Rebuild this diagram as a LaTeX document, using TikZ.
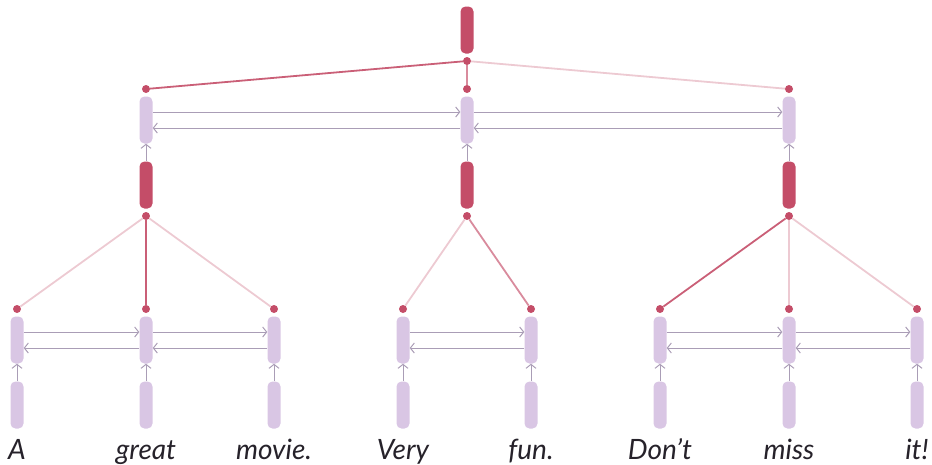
\documentclass[tikz,border=0pt]{standalone}
\usepackage{fontspec}
\setmainfont{Lato}
\usetikzlibrary{arrows.meta}

\definecolor{lilac}{HTML}{D9C6E4}
\definecolor{rosewood}{HTML}{C44D68}
\definecolor{slate}{HTML}{AA9DB6}
\definecolor{ink}{HTML}{26222A}

\begin{document}
\begin{tikzpicture}
[
x=1pt, y=-1pt,
Bar/.style={rectangle, rounded corners=5pt, minimum width=13pt, minimum height=47pt, inner sep=0pt},
Hidden/.style={Bar, fill=lilac},
Pooled/.style={Bar, fill=rosewood},
Dot/.style={circle, fill=rosewood, minimum size=8pt, inner sep=0pt},
Flow/.style={-{Straight Barb[length=4pt,width=10pt]}, draw=slate, line width=1pt},
Strong/.style={draw=rosewood!90, line width=1.8pt},
Medium/.style={draw=rosewood!65, line width=1.8pt},
Weak/.style={draw=rosewood!30, line width=1.8pt},
Word/.style={font=\fontsize{28}{33}\selectfont\itshape, text=ink, anchor=base, inner sep=0pt},
]

\useasboundingbox (0,0) rectangle (932,464);

% word level: embeddings, encoder states, attention points
\foreach \x/\w [count=\i] in {17/A, 146/great, 274/movie., 403/Very, 531/fun., 660/Don't, 789/miss, 917/it!}{
  \node[Hidden] (emb\i) at (\x,405) {};
  \node[Hidden] (enc\i) at (\x,340) {};
  \node[Dot] (wdot\i) at (\x,309) {};
  \node[Word] (word\i) at (\x,459) {\w};
  \draw[Flow] (emb\i) -- (enc\i);
}

% bidirectional links inside each sentence
\foreach \a/\b in {1/2, 2/3, 4/5, 6/7, 7/8}{
  \draw[Flow] ([yshift=8pt]enc\a.east) -- ([yshift=8pt]enc\b.west);
  \draw[Flow] ([yshift=-8pt]enc\b.west) -- ([yshift=-8pt]enc\a.east);
}

% sentence level
\foreach \x [count=\i] in {146, 467, 789}{
  \node[Pooled] (sent\i) at (\x,185) {};
  \node[Dot] (satt\i) at (\x,216) {};
  \node[Hidden] (senc\i) at (\x,120) {};
  \node[Dot] (sdot\i) at (\x,89) {};
  \draw[Flow] (sent\i) -- (senc\i);
}

\foreach \a/\b in {1/2, 2/3}{
  \draw[Flow] ([yshift=8pt]senc\a.east) -- ([yshift=8pt]senc\b.west);
  \draw[Flow] ([yshift=-8pt]senc\b.west) -- ([yshift=-8pt]senc\a.east);
}

% word attention weights
\draw[Weak] (satt1) -- (wdot1);
\draw[Strong] (satt1) -- (wdot2);
\draw[Weak] (satt1) -- (wdot3);
\draw[Weak] (satt2) -- (wdot4);
\draw[Medium] (satt2) -- (wdot5);
\draw[Strong] (satt3) -- (wdot6);
\draw[Weak] (satt3) -- (wdot7);
\draw[Weak] (satt3) -- (wdot8);

% document vector and sentence attention
\node[Pooled] (doc) at (467,30) {};
\node[Dot] (datt) at (467,61) {};
\draw[Strong] (datt) -- (sdot1);
\draw[Medium] (datt) -- (sdot2);
\draw[Weak] (datt) -- (sdot3);

\end{tikzpicture}
\end{document}
